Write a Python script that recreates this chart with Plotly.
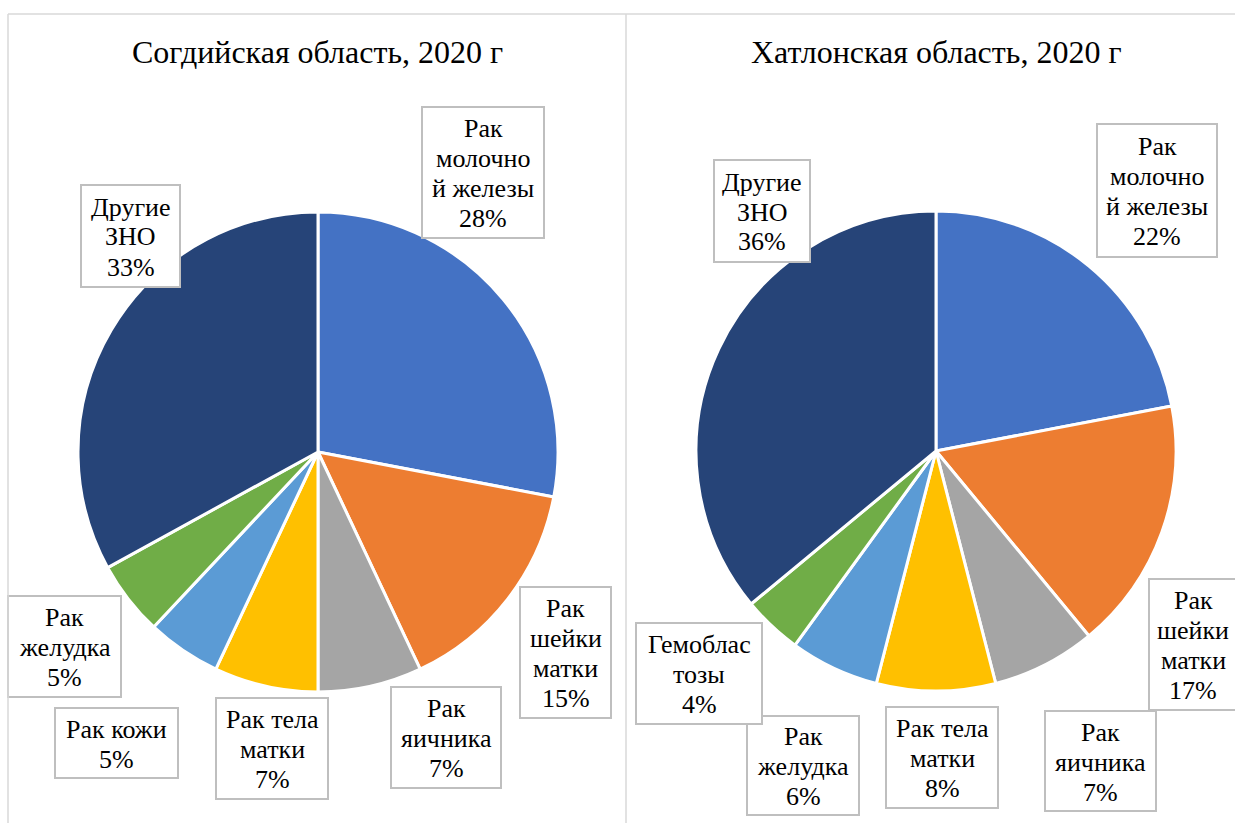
import plotly.graph_objects as go

W, H = 1235, 823

# Data
titles = ["Согдийская область, 2020 г", "Хатлонская область, 2020 г"]

sogd_labels = ["Рак молочной железы", "Рак шейки матки", "Рак яичника",
               "Рак тела матки", "Рак кожи", "Рак желудка", "Другие ЗНО"]
sogd_values = [28, 15, 7, 7, 5, 5, 33]
sogd_box_text = [["Рак", "молочно", "й железы"], ["Рак", "шейки", "матки"], ["Рак", "яичника"],
                 ["Рак тела", "матки"], ["Рак кожи"], ["Рак", "желудка"], ["Другие", "ЗНО"]]

khat_labels = ["Рак молочной железы", "Рак шейки матки", "Рак яичника",
               "Рак тела матки", "Рак желудка", "Гемобластозы", "Другие ЗНО"]
khat_values = [22, 17, 7, 8, 6, 4, 36]
khat_box_text = [["Рак", "молочно", "й железы"], ["Рак", "шейки", "матки"], ["Рак", "яичника"],
                 ["Рак тела", "матки"], ["Рак", "желудка"], ["Гемоблас", "тозы"], ["Другие", "ЗНО"]]

colors = ["#4472C4", "#ED7D31", "#A5A5A5", "#FFC000", "#5B9BD5", "#70AD47", "#264478"]

FONT = "'Liberation Serif', 'Times New Roman', serif"
LABEL_SIZE = 26
LINE_STEP = 30


def px(x):
    return x / W


def py(y):
    return 1 - y / H


def pie(labels, values, cx, cy, r):
    return go.Pie(
        labels=labels, values=values, sort=False, direction="clockwise",
        rotation=0, marker=dict(colors=colors, line=dict(color="white", width=3)),
        textinfo="none", hoverinfo="label+percent", showlegend=False,
        domain=dict(x=[px(cx - r), px(cx + r)], y=[py(cy + r), py(cy - r)]),
    )


fig = go.Figure()
fig.add_trace(pie(sogd_labels, sogd_values, 318, 452, 240))
fig.add_trace(pie(khat_labels, khat_values, 936, 451, 240))

annotations = []
shapes = []

# titles
for t, cx in zip(titles, [318, 936]):
    annotations.append(dict(x=px(cx), y=py(52), xref="paper", yref="paper", text=t,
                            showarrow=False, xanchor="center", yanchor="middle",
                            font=dict(family=FONT, size=32, color="black")))

# label boxes: left, top, right, bottom (px)
sogd_boxes = [(422, 107, 544, 238), (520, 587, 611, 718), (391, 687, 501, 788),
              (216, 698, 328, 799), (55, 708, 178, 778), (8, 596, 121, 697),
              (81, 185, 180, 287)]
khat_boxes = [(1097, 124, 1217, 257), (1149, 579, 1245, 710), (1045, 711, 1156, 811),
              (886, 707, 998, 808), (747, 716, 859, 815), (636, 623, 762, 724),
              (714, 160, 810, 262)]
# horizontal text centre where it differs from the box centre
khat_text_x = {1: 1193}

for texts, vals, boxes, text_x in [(sogd_box_text, sogd_values, sogd_boxes, {}),
                                   (khat_box_text, khat_values, khat_boxes, khat_text_x)]:
    for i, (t, v, (x0, y0, x1, y1)) in enumerate(zip(texts, vals, boxes)):
        shapes.append(dict(type="rect", xref="paper", yref="paper",
                           x0=px(x0), x1=px(x1), y0=py(y1), y1=py(y0),
                           fillcolor="white", line=dict(color="#BFBFBF", width=2),
                           layer="above"))
        lines = t + [f"{v}%"]
        n = len(lines)
        cx = text_x.get(i, (x0 + x1) / 2)
        cy = (y0 + y1) / 2 + 1
        for k, ln in enumerate(lines):
            ly = cy + (k - (n - 1) / 2) * LINE_STEP
            annotations.append(dict(
                x=px(cx), y=py(ly), xref="paper", yref="paper", text=ln,
                showarrow=False, xanchor="center", yanchor="middle",
                font=dict(family=FONT, size=LABEL_SIZE, color="black")))

# panel frames
frame = dict(color="#D9D9D9", width=1.5)
shapes += [
    dict(type="line", xref="paper", yref="paper", x0=px(8), x1=1.0, y0=py(14), y1=py(14), line=frame),
    dict(type="line", xref="paper", yref="paper", x0=px(8), x1=px(8), y0=py(14), y1=0, line=frame),
    dict(type="line", xref="paper", yref="paper", x0=px(626), x1=px(626), y0=py(14), y1=0, line=frame),
]

fig.update_layout(
    width=W, height=H, margin=dict(l=0, r=0, t=0, b=0),
    paper_bgcolor="white", plot_bgcolor="white",
    annotations=annotations, shapes=shapes,
    font=dict(family=FONT),
)

fig.write_html("out.html")
